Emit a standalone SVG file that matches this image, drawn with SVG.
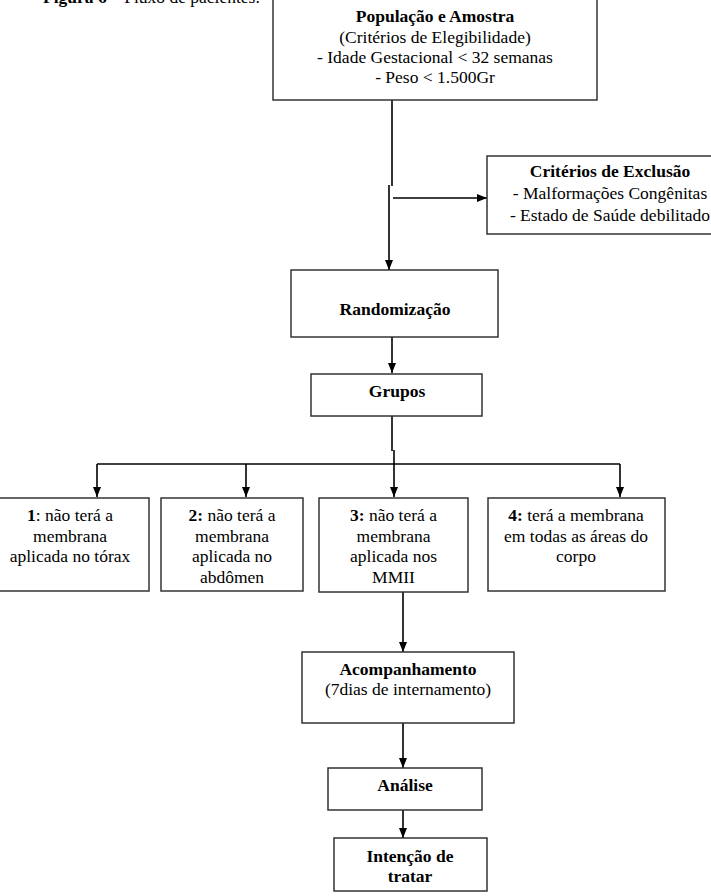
<svg xmlns="http://www.w3.org/2000/svg" width="711" height="896" viewBox="0 0 711 896">
<style>
  .box { fill: #ffffff; stroke: #333333; stroke-width: 1.5; }
  .t { font-family: "Liberation Serif", "Times New Roman", serif; font-size: 17.5px; fill: #000000; text-anchor: middle; }
  .b { font-weight: bold; }
  .ln { stroke: #000000; stroke-width: 1.6; fill: none; }
  .arr { marker-end: url(#ah); }
</style>
<defs>
  <marker id="ah" viewBox="0 0 10 10" refX="10" refY="5" markerWidth="10" markerHeight="10" markerUnits="userSpaceOnUse" orient="auto">
    <path d="M0,1 L10,5 L0,9 Z" fill="#000000"/>
  </marker>
</defs>
<rect width="711" height="896" fill="#ffffff"/>

<g id="caption">
  <text x="43" y="3" class="t" style="text-anchor:start"><tspan class="b">Figura 6</tspan> – Fluxo de pacientes.</text>
</g>

<g id="connectors">
  <path class="ln" d="M392,100 V186"/>
  <path class="ln arr" d="M389,185 V270"/>
  <path class="ln arr" d="M393,198 H487"/>
  <path class="ln arr" d="M392,337 V373"/>
  <path class="ln" d="M392,402 V451"/>
  <path class="ln arr" d="M394,450 V497"/>
  <path class="ln" d="M97,464 H620"/>
  <path class="ln arr" d="M97,464 V497"/>
  <path class="ln arr" d="M246,464 V497"/>
  <path class="ln arr" d="M620,464 V497"/>
  <path class="ln arr" d="M403,592 V652"/>
  <path class="ln arr" d="M403,723 V768"/>
  <path class="ln arr" d="M403,810 V838"/>
</g>

<g id="populacao">
  <rect class="box" x="273" y="-2" width="324" height="102"/>
  <text x="435" y="22" class="t b">População e Amostra</text>
  <text x="435" y="43" class="t">(Critérios de Elegibilidade)</text>
  <text x="435" y="63" class="t">- Idade Gestacional &lt; 32 semanas</text>
  <text x="435" y="83" class="t">- Peso &lt; 1.500Gr</text>
</g>

<g id="exclusao">
  <rect class="box" x="487" y="156" width="246" height="78"/>
  <text x="610" y="177" class="t b">Critérios de Exclusão</text>
  <text x="610" y="199" class="t">- Malformações Congênitas</text>
  <text x="610" y="221" class="t">- Estado de Saúde debilitado</text>
</g>

<g id="randomizacao">
  <rect class="box" x="291" y="270" width="207" height="67"/>
  <text x="395" y="315" class="t b">Randomização</text>
</g>

<g id="grupos">
  <rect class="box" x="311" y="374" width="171" height="42"/>
  <text x="397" y="397" class="t b">Grupos</text>
</g>

<g id="grupo1">
  <rect class="box" x="-9" y="498" width="158" height="93"/>
  <text x="70" y="521" class="t"><tspan class="b">1</tspan>: não terá a</text>
  <text x="70" y="542" class="t">membrana</text>
  <text x="70" y="562" class="t">aplicada no tórax</text>
</g>

<g id="grupo2">
  <rect class="box" x="161" y="498" width="142" height="93"/>
  <text x="232" y="521" class="t"><tspan class="b">2:</tspan> não terá a</text>
  <text x="232" y="542" class="t">membrana</text>
  <text x="232" y="562" class="t">aplicada no</text>
  <text x="232" y="583" class="t">abdômen</text>
</g>

<g id="grupo3">
  <rect class="box" x="319" y="498" width="149" height="94"/>
  <text x="393.5" y="521" class="t"><tspan class="b">3:</tspan> não terá a</text>
  <text x="393.5" y="542" class="t">membrana</text>
  <text x="393.5" y="562" class="t">aplicada nos</text>
  <text x="393.5" y="583" class="t">MMII</text>
</g>

<g id="grupo4">
  <rect class="box" x="488" y="498" width="177" height="93"/>
  <text x="576" y="521" class="t"><tspan class="b">4:</tspan> terá a membrana</text>
  <text x="576" y="542" class="t">em todas as áreas do</text>
  <text x="576" y="562" class="t">corpo</text>
</g>

<g id="acompanhamento">
  <rect class="box" x="302" y="652" width="212" height="71"/>
  <text x="408" y="675" class="t b">Acompanhamento</text>
  <text x="408" y="695" class="t">(7dias de internamento)</text>
</g>

<g id="analise">
  <rect class="box" x="328" y="768" width="154" height="42"/>
  <text x="405" y="791" class="t b">Análise</text>
</g>

<g id="intencao">
  <rect class="box" x="334" y="838" width="153" height="53"/>
  <text x="410" y="862" class="t b">Intenção de</text>
  <text x="410" y="882" class="t b">tratar</text>
</g>
</svg>
